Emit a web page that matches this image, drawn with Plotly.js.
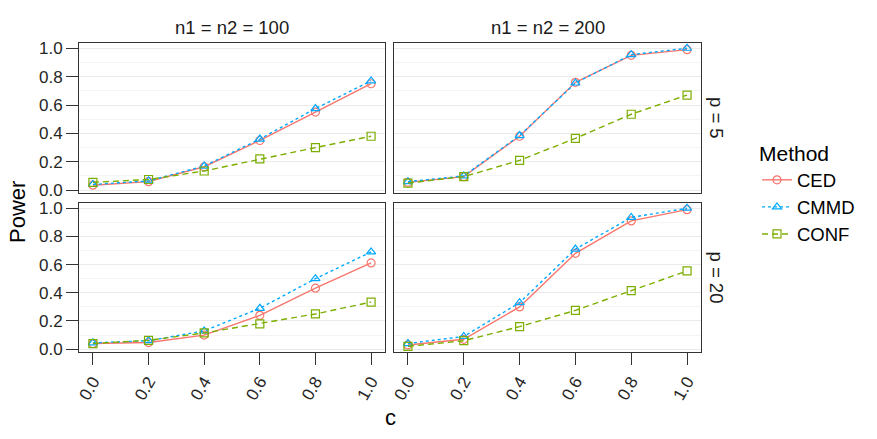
<!DOCTYPE html>
<html>
<head>
<meta charset="utf-8">
<script src="https://cdn.plot.ly/plotly-3.0.1.min.js"></script>
<style>
  html, body { margin: 0; padding: 0; background: #fff; }
  #chart { width: 877px; height: 439px; }
</style>
</head>
<body>
<div id="chart"></div>
<script>
// power curves by method, one array per facet
const cVals = [0.0, 0.2, 0.4, 0.6, 0.8, 1.0];
const cTicks = ['0.0', '0.2', '0.4', '0.6', '0.8', '1.0'];
const methods = ['CED', 'CMMD', 'CONF'];

const cedN100P5   = [0.035, 0.06, 0.165, 0.35, 0.55, 0.75];
const cmmdN100P5  = [0.04, 0.065, 0.17, 0.36, 0.575, 0.77];
const confN100P5  = [0.055, 0.075, 0.135, 0.22, 0.30, 0.38];

const cedN200P5   = [0.055, 0.095, 0.38, 0.76, 0.95, 0.99];
const cmmdN200P5  = [0.06, 0.10, 0.385, 0.755, 0.955, 1.0];
const confN200P5  = [0.05, 0.095, 0.21, 0.365, 0.535, 0.67];

const cedN100P20  = [0.04, 0.047, 0.10, 0.24, 0.433, 0.612];
const cmmdN100P20 = [0.045, 0.06, 0.13, 0.29, 0.50, 0.69];
const confN100P20 = [0.04, 0.063, 0.115, 0.18, 0.25, 0.334];

const cedN200P20  = [0.03, 0.07, 0.30, 0.68, 0.91, 0.99];
const cmmdN200P20 = [0.04, 0.09, 0.33, 0.71, 0.935, 1.0];
const confN200P20 = [0.02, 0.06, 0.16, 0.275, 0.415, 0.555];

const colTitles = ['n1 = n2 = 100', 'n1 = n2 = 200'];
const rowTitles = ['p = 5', 'p = 20'];

// styling per method
const styles = {
    CED:  { color: '#F8766D', dash: 'solid',   symbol: 'circle-open' },
    CMMD: { color: '#00A9FF', dash: '3px,3px', symbol: 'triangle-up-open' },
    CONF: { color: '#7CAE00', dash: '6px,4px', symbol: 'square-open' }
};

const panels = [
    { ax: '',  data: [cedN100P5, cmmdN100P5, confN100P5] },
    { ax: '2', data: [cedN200P5, cmmdN200P5, confN200P5] },
    { ax: '3', data: [cedN100P20, cmmdN100P20, confN100P20] },
    { ax: '4', data: [cedN200P20, cmmdN200P20, confN200P20] }
];

const W = 877, H = 439;
const px = v => v / W;
const py = v => 1 - v / H;

const colDomains = [[px(79), px(385)], [px(394), px(701)]];
const rowDomains = [[py(193), py(43)], [py(352), py(203)]];

const traces = [];
panels.forEach((p, i) => {
    methods.forEach((m, j) => {
        const s = styles[m];
        traces.push({
            x: cVals,
            y: p.data[j],
            type: 'scatter',
            mode: 'lines+markers',
            name: m,
            legendgroup: m,
            showlegend: i === 0,
            xaxis: 'x' + p.ax,
            yaxis: 'y' + p.ax,
            line: { color: s.color, width: 1.4, dash: s.dash },
            marker: { symbol: s.symbol, size: 8, color: s.color, line: { color: s.color, width: 1.2 } }
        });
    });
});

const font = { family: '"Liberation Sans", Arial, sans-serif', color: '#000' };
const tickFont = { ...font, size: 17, color: '#262626' };

function xAxis(col, row) {
    const bottom = row === 1;
    const n = row * 2 + col;
    return {
        domain: colDomains[col],
        anchor: 'y' + (n === 0 ? '' : n + 1),
        range: [-0.05, 1.05],
        tickvals: cVals,
        ticktext: cTicks,
        showticklabels: bottom,
        ticks: bottom ? 'outside' : '',
        ticklen: 12,
        tickwidth: 1,
        tickcolor: '#333',
        tickangle: -60,
        tickfont: tickFont,
        showgrid: false,
        zeroline: false,
        showline: true,
        mirror: true,
        linecolor: '#333',
        linewidth: 1
    };
}

function yAxis(col, row) {
    const left = col === 0;
    const n = row * 2 + col;
    return {
        domain: rowDomains[row],
        anchor: 'x' + (n === 0 ? '' : n + 1),
        range: [-0.02, 1.037],
        tickvals: cVals,
        ticktext: cTicks,
        showticklabels: left,
        ticks: left ? 'outside' : '',
        ticklen: 12,
        tickwidth: 1,
        tickcolor: '#333',
        tickfont: tickFont,
        showgrid: true,
        gridcolor: '#ebebeb',
        gridwidth: 1,
        minor: { dtick: 0.1, showgrid: true, gridcolor: '#f4f4f4', gridwidth: 1 },
        zeroline: false,
        showline: true,
        mirror: true,
        linecolor: '#333',
        linewidth: 1
    };
}

const annotations = [];
colTitles.forEach((t, i) => {
    annotations.push({
        text: t, xref: 'paper', yref: 'paper',
        x: (colDomains[i][0] + colDomains[i][1]) / 2, y: py(27),
        xanchor: 'center', yanchor: 'middle',
        showarrow: false, font: { ...font, size: 18.5, color: '#1a1a1a' }
    });
});
rowTitles.forEach((t, i) => {
    annotations.push({
        text: t, xref: 'paper', yref: 'paper',
        x: px(716), y: (rowDomains[i][0] + rowDomains[i][1]) / 2,
        xanchor: 'center', yanchor: 'middle',
        showarrow: false, textangle: 90, font: { ...font, size: 18.5, color: '#1a1a1a' }
    });
});
annotations.push({
    text: 'Power', xref: 'paper', yref: 'paper', x: px(18), y: py(212),
    xanchor: 'center', yanchor: 'middle',
    showarrow: false, textangle: -90, font: { ...font, size: 22 }
});
annotations.push({
    text: 'c', xref: 'paper', yref: 'paper', x: px(390), y: py(417),
    xanchor: 'center', yanchor: 'middle',
    showarrow: false, font: { ...font, size: 22 }
});

const layout = {
    width: W,
    height: H,
    margin: { l: 0, r: 0, t: 0, b: 0 },
    paper_bgcolor: '#fff',
    plot_bgcolor: '#fff',
    font: font,
    showlegend: true,
    legend: {
        x: px(757), y: py(134), xanchor: 'left', yanchor: 'top',
        title: { text: 'Method', font: { ...font, size: 21 } },
        font: { ...font, size: 18.5 },
        tracegroupgap: 0,
        itemwidth: 30,
        bgcolor: 'rgba(0,0,0,0)'
    },
    xaxis: xAxis(0, 0), yaxis: yAxis(0, 0),
    xaxis2: xAxis(1, 0), yaxis2: yAxis(1, 0),
    xaxis3: xAxis(0, 1), yaxis3: yAxis(0, 1),
    xaxis4: xAxis(1, 1), yaxis4: yAxis(1, 1),
    annotations: annotations
};

Plotly.newPlot('chart', traces, layout, { displayModeBar: false, staticPlot: true });
</script>
</body>
</html>
